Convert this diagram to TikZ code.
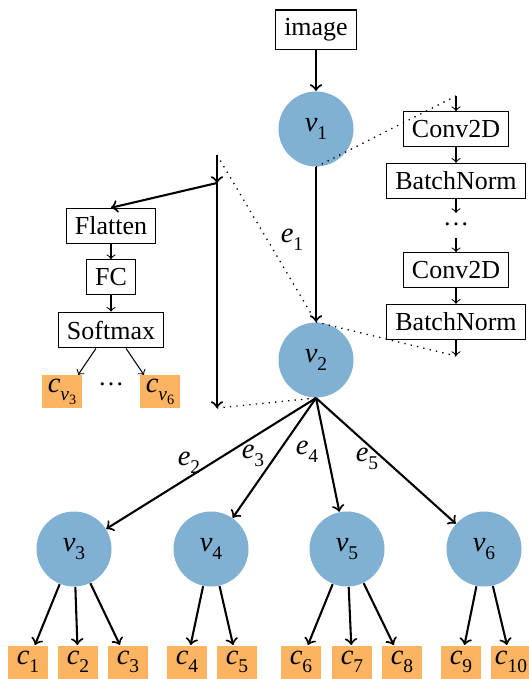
\documentclass[tikz,border=0pt]{standalone}
\usepackage{fontspec}
\setmainfont{Liberation Serif}
\usetikzlibrary{calc}
\definecolor{nodeblue}{HTML}{80B1D3}
\definecolor{clsorange}{HTML}{FDB462}
\newcommand{\lbl}[2]{\textit{#1}\raisebox{-0.28em}{\fontsize{7.5}{8}\selectfont #2}}
\newcommand{\lblcv}[1]{\textit{c}\raisebox{-0.28em}{\fontsize{7.5}{8}\selectfont\textit{v}\raisebox{-0.22em}{\fontsize{5.5}{6}\selectfont #1}}}
\begin{document}
\begin{tikzpicture}[x=0.385pt,y=-0.385pt,
  font=\fontsize{10}{12}\selectfont,
  vert/.style={circle,fill=nodeblue,minimum size=75*0.385pt,inner sep=0pt,font=\fontsize{11}{13}\selectfont},
  layer/.style={draw,line width=0.4pt,inner sep=3.3pt},
  cls/.style={fill=clsorange,minimum width=40*0.385pt,minimum height=33*0.385pt,inner sep=0pt,font=\fontsize{11}{13}\selectfont},
  big/.style={->,line width=0.8pt},
  small/.style={->,line width=0.4pt},
  zoomline/.style={dotted,line width=0.5pt},
  elabel/.style={font=\fontsize{11}{13}\selectfont}]
\useasboundingbox (0,0) rectangle (528,679);

% main graph
\node[layer] (img) at (316,30) {image};
\node[vert] (v1) at (316,129) {\lbl{v}{1}};
\node[vert] (v2) at (316,360) {\lbl{v}{2}};
\node[vert] (v3) at (74,549) {\lbl{v}{3}};
\node[vert] (v4) at (211,549) {\lbl{v}{4}};
\node[vert] (v5) at (347,549) {\lbl{v}{5}};
\node[vert] (v6) at (484,549) {\lbl{v}{6}};

\draw[big] (img.south) -- (v1);
\draw[big] (v1) -- (v2);
\node[elabel] (e1) at (292,240) {\lbl{e}{1}};

\draw[big] (v2.south) -- (v3);
\draw[big] (v2.south) -- (v4);
\draw[big] (v2.south) -- (v5);
\draw[big] (v2.south) -- (v6);
\node[elabel] (e2) at (189,463) {\lbl{e}{2}};
\node[elabel] (e3) at (253,456) {\lbl{e}{3}};
\node[elabel] (e4) at (307,452) {\lbl{e}{4}};
\node[elabel] (e5) at (367,459) {\lbl{e}{5}};

% classes
\node[cls] (c1) at (28,662) {\lbl{c}{1}};
\node[cls] (c2) at (78,662) {\lbl{c}{2}};
\node[cls] (c3) at (128,662) {\lbl{c}{3}};
\node[cls] (c4) at (187,662) {\lbl{c}{4}};
\node[cls] (c5) at (237,662) {\lbl{c}{5}};
\node[cls] (c6) at (301,662) {\lbl{c}{6}};
\node[cls] (c7) at (352,662) {\lbl{c}{7}};
\node[cls] (c8) at (402,662) {\lbl{c}{8}};
\node[cls] (c9) at (461,662) {\lbl{c}{9}};
\node[cls] (c10) at (511,662) {\lbl{c}{10}};

\draw[big] (v3) -- (c1);
\draw[big] (v3) -- (c2);
\draw[big] (v3) -- (c3);
\draw[big] (v4) -- (c4);
\draw[big] (v4) -- (c5);
\draw[big] (v5) -- (c6);
\draw[big] (v5) -- (c7);
\draw[big] (v5) -- (c8);
\draw[big] (v6) -- (c9);
\draw[big] (v6) -- (c10);

% right column: expansion of e1
\coordinate (rtop) at (456,96);
\node[layer] (conv1) at (456,129) {Conv2D};
\node[layer] (bn1) at (456,181) {BatchNorm};
\coordinate (d1) at (456,213);
\node (rdots) at (456,224) {\ldots};
\coordinate (d2) at (456,238);
\node[layer] (conv2) at (456,270) {Conv2D};
\node[layer] (bn2) at (456,322) {BatchNorm};
\coordinate (rbot) at (456,356);

\draw[small] (rtop) -- (conv1.north);
\draw[small] (conv1.south) -- (bn1.north);
\draw[small] (bn1.south) -- (d1);
\draw[small] (d2) -- (conv2.north);
\draw[small] (conv2.south) -- (bn2.north);
\draw[small] (bn2.south) -- (rbot);
\draw[zoomline] (v1.south) -- (rtop);
\draw[zoomline] (v2.north) -- (rbot);

% left column: classifier head
\coordinate (ltop) at (217,155);
\coordinate (ljoin) at (217,183);
\coordinate (lbot) at (217,408);
\node[layer] (flat) at (111,226) {Flatten};
\node[layer] (fc) at (111,277) {FC};
\node[layer] (sm) at (111,330) {Softmax};
\node[cls] (cv3) at (62,392) {\lblcv{3}};
\node[cls] (cv6) at (160,392) {\lblcv{6}};
\node (ldots) at (111,384) {\ldots};

\draw[big] (ltop) -- (ljoin);
\draw[big] (ljoin) -- (flat.north);
\draw[big] (ljoin) -- (lbot);
\draw[small] (flat.south) -- (fc.north);
\draw[small] (fc.south) -- (sm.north);
\draw[small] ($(sm.south)+(-15,0)$) -- ($(cv3.north)+(16,0)$);
\draw[small] ($(sm.south)+(15,0)$) -- ($(cv6.north)+(-16,0)$);
\draw[zoomline] (ltop) -- (v2.north);
\draw[zoomline] (lbot) -- (v2.south);
\end{tikzpicture}
\end{document}
